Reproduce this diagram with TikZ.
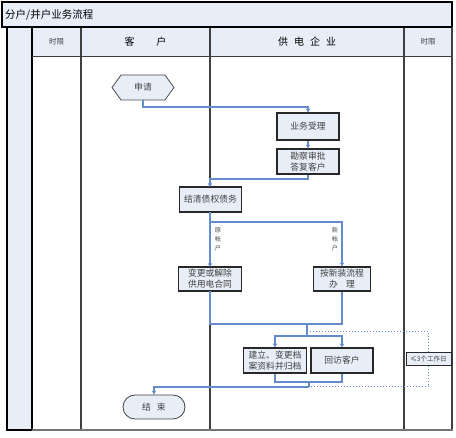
\documentclass[tikz,border=0pt]{standalone}
\usepackage{fontspec}
\setmainfont{Noto Sans CJK SC}
\usetikzlibrary{shapes.symbols,shapes.misc,arrows.meta}
\definecolor{lanefill}{RGB}{232,238,248}
\definecolor{conncol}{RGB}{100,140,205}
\definecolor{lanecol}{RGB}{64,64,64}
\tikzset{
  procbox/.style={draw={rgb,255:red,40;green,40;blue,40}, line width=1.1pt, fill=lanefill,
    inner sep=0pt, align=center, font=\fontsize{8.8}{11}\selectfont, text=black!75},
  conn/.style={draw=conncol, line width=1.2pt},
  arr/.style={-{Stealth[length=4pt,width=4.5pt]}},
  dotconn/.style={draw=conncol, line width=1pt, dotted},
  lane/.style={draw=lanecol, line width=1.3pt},
  vlabel/.style={align=center, font=\fontsize{6.3}{9}\selectfont, text=black!70, inner sep=0pt},
}
\begin{document}
\begin{tikzpicture}[x=1pt,y=-1pt]
\useasboundingbox (0,0) rectangle (456,438);
% title bar
\path[fill=lanefill, draw=black, line width=1.5pt] (2,2) rectangle (452,27);
\node[anchor=west, inner sep=0pt, font=\fontsize{10.5}{12}\selectfont] (title) at (5,15) {分户/并户业务流程};
% header row
\path[fill=lanefill] (32,27) rectangle (452,57);
\path[fill=lanefill, draw=black, line width=1.2pt] (7,27) rectangle (32,430);
\draw[lane, line width=1pt] (32,57) -- (452,57);
\draw[lane] (81,27) -- (81,430);
\draw[lane] (210,27) -- (210,430);
\draw[lane] (404,27) -- (404,430);
\draw[lane] (452,27) -- (452,430);
\draw[draw=black!55, line width=2pt] (32,430) -- (453,430);
\draw[black, line width=1.5pt] (2,27) -- (452,27);
% headers
\node[font=\fontsize{7.5}{9}\selectfont, text=black!75] (h1) at (56.5,42) {时限};
\node[font=\fontsize{10}{12}\selectfont] (h2) at (145.5,42) {客\hspace{22pt}户};
\node[font=\fontsize{10}{12}\selectfont] (h3) at (307,42) {供\hspace{6pt}电\hspace{6pt}企\hspace{6pt}业};
\node[font=\fontsize{7.5}{9}\selectfont, text=black!75] (h4) at (428,42) {时限};
% nodes
\node[signal, signal to=west and east, signal pointer angle=108, procbox, minimum width=62pt, minimum height=25pt, line width=0.8pt, draw=black!70] (sq) at (143,87.5) {申请};
\node[procbox, minimum width=62pt, minimum height=27pt] (ywsl) at (308,126.5) {业务受理};
\node[procbox, minimum width=62pt, minimum height=25pt] (kc) at (308,161.5) {勘察审批\\答复客户};
\node[procbox, minimum width=62pt, minimum height=25pt] (jq) at (210.5,199.5) {结清债权债务};
\node[procbox, minimum width=63pt, minimum height=24pt] (bg) at (210,279) {变更或解除\\供用电合同};
\node[procbox, minimum width=57pt, minimum height=24pt] (ax) at (342,279) {按新装流程\\办\hspace{8pt}理};
\node[procbox, minimum width=63pt, minimum height=25pt] (jl) at (275,360.5) {建立、变更档\\案资料并归档};
\node[procbox, minimum width=62pt, minimum height=25pt] (hf) at (342,360.5) {回访客户};
\node[rounded rectangle, procbox, line width=0.8pt, draw=black!75, minimum width=62pt, minimum height=24pt] (js) at (154,407) {结\hspace{6pt}束};
% coordinates
\coordinate (y1) at (0,107);
\coordinate (y2) at (0,179);
\coordinate (y3) at (0,222);
\coordinate (y4) at (0,324);
\coordinate (y5) at (0,382);
\coordinate (m1) at (307,324);
\coordinate (m2) at (307,336);
\coordinate (m3) at (309,382);
\coordinate (m4) at (309,387);
\coordinate (d1) at (310,332);
% connectors
\draw[conn, arr] (sq.south) |- (ywsl.north |- y1) -- (ywsl.north);
\draw[conn, arr] (ywsl.south) -- (kc.north);
\draw[conn, arr] (kc.south) |- (210,179) -- (210,187);
\draw[conn, arr] (210,212) -- (210,267);
\draw[conn, arr] (210,222) -| (ax.north);
\draw[conn] (210,291) |- (ax.south |- y4) -- (ax.south);
\draw[conn] (m1) -- (m2);
\draw[conn, arr] (m2) -| (jl.north);
\draw[conn, arr] (m2) -| (hf.north);
\draw[conn] (jl.south) |- (hf.south |- y5) -- (hf.south);
\draw[conn] (m3) -- (m4);
\draw[conn, arr] (m4) -| (js.north);
% dotted time loop
\node[procbox, font=\fontsize{6.5}{8}\selectfont, minimum width=45pt, minimum height=13pt, line width=1pt] (sx) at (428.5,359) {≤3个工作日};
\draw[dotconn] (d1) -| (sx.north);
\draw[dotconn] (sx.south) |- (m4);
% vertical labels
\node[vlabel] (l1) at (218,239) {原\\帐\\户};
\node[vlabel] (l2) at (335,239) {新\\帐\\户};
\end{tikzpicture}
\end{document}
